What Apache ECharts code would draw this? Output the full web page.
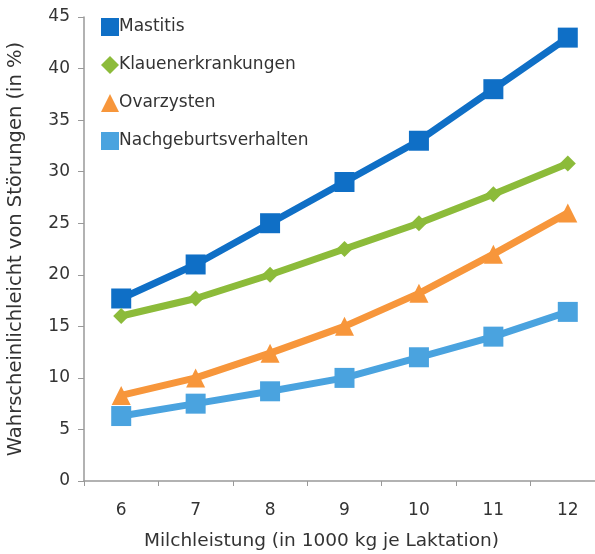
<!DOCTYPE html>
<html><head><meta charset="utf-8">
<script src="https://cdn.jsdelivr.net/npm/echarts@6/dist/echarts.min.js"></script>
<style>html,body{margin:0;padding:0;background:#fff}#c{width:595px;height:554px}</style>
</head><body><div id="c"></div>
<script>
const categories = ['6','7','8','9','10','11','12'];
const mastitis = [17.7, 21, 25, 29, 33, 38, 43];
const klauen = [16, 17.7, 20, 22.5, 25, 27.8, 30.8];
const ovar = [8.3, 10, 12.4, 15, 18.2, 22, 26];
const nachgeburt = [6.3, 7.5, 8.7, 10, 12, 14, 16.4];
const seriesNames = ['Mastitis','Klauenerkrankungen','Ovarzysten','Nachgeburtsverhalten'];
const xTitle = 'Milchleistung (in 1000 kg je Laktation)';
const yTitle = 'Wahrscheinlichleicht von Störungen (in %)';

const font = 'DejaVu Sans, Verdana, sans-serif';
const colors = ['#0f6fc6','#8cbb3a','#f7963b','#4aa3df'];
const symbols = ['rect','diamond','triangle','rect'];
const symSizes = [20, 16, 19, 20];
const datas = [mastitis, klauen, ovar, nachgeburt];

const chart = echarts.init(document.getElementById('c'));
chart.setOption({
  animation:false,
  color: colors,
  grid:{left:84, top:17, width:521, height:464, containLabel:false, outerBoundsMode:'none'},
  legend:{
    left:96, top:13, orient:'vertical', itemGap:20, itemWidth:18, itemHeight:18,
    textStyle:{fontFamily:font, fontSize:17, color:'#333', padding:[0,0,0,-5]},
    data: seriesNames.map((n,i)=>({name:n, icon:symbols[i]}))
  },
  xAxis:{
    type:'category', data:categories, boundaryGap:true,
    name:xTitle, nameLocation:'middle', nameGap:51,
    nameTextStyle:{fontFamily:font, fontSize:18.5, color:'#333', padding:[0,0,0,-46]},
    axisLine:{lineStyle:{color:'#999', width:1.5}},
    axisTick:{show:true, inside:false, length:5, lineStyle:{color:'#999'}},
    axisLabel:{fontFamily:font, fontSize:17, color:'#333', margin:21}
  },
  yAxis:{
    type:'value', min:0, max:45, interval:5,
    name:yTitle, nameLocation:'middle', nameGap:58, nameRotate:90,
    nameTextStyle:{fontFamily:font, fontSize:19.5, color:'#333'},
    axisLine:{show:true, lineStyle:{color:'#999', width:1.5}},
    axisTick:{show:true, length:6, lineStyle:{color:'#999'}},
    splitLine:{show:false},
    axisLabel:{fontFamily:font, fontSize:17, color:'#333', margin:14}
  },
  series: seriesNames.map((n,i)=>({
    name:n, type:'line', data:datas[i],
    symbol:symbols[i], symbolSize:symSizes[i],
    lineStyle:{width:7, color:colors[i]},
    itemStyle:{color:colors[i]}
  }))
});
</script></body></html>
